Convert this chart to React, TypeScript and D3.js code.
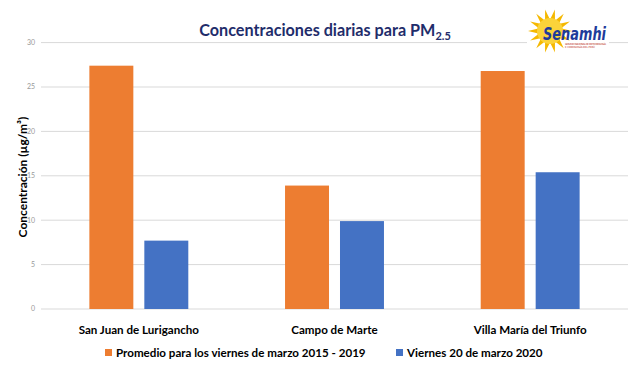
import React from "react";
import * as d3 from "d3";

const stations = ["San Juan de Lurigancho", "Campo de Marte", "Villa María del Triunfo"];
const seriesNames = ["Promedio para los viernes de marzo 2015 - 2019", "Viernes 20 de marzo 2020"];
const promedio = [27.4, 13.9, 26.8];
const viernes2020 = [7.7, 9.9, 15.4];
const yTicks = [0, 5, 10, 15, 20, 25, 30];
const colors = ["#ED7D31", "#4472C4"];

const W = 643;
const H = 384;
const plot = { left: 41, right: 628, top: 42.6, bottom: 309 };
const font = "Lato, 'Open Sans', sans-serif";

const App = () => {
  const x0 = d3.scaleBand().domain(stations).range([plot.left, plot.right]).padding(0);
  const x1 = d3
    .scaleBand()
    .domain(seriesNames)
    .range([0, x0.bandwidth()])
    .paddingInner(0.2)
    .paddingOuter(0.88);
  const y = d3.scaleLinear().domain([0, 30]).range([plot.bottom, plot.top]);
  const values = [promedio, viernes2020];

  // sun rays for the logo
  const rays = d3.range(14).map((i) => {
    const a = (i / 14) * Math.PI * 2;
    const a1 = a - 0.2;
    const a2 = a + 0.2;
    const r0 = 12;
    const r1 = 22;
    return `M${Math.cos(a1) * r0},${Math.sin(a1) * r0} L${Math.cos(a) * r1},${Math.sin(a) * r1} L${Math.cos(a2) * r0},${Math.sin(a2) * r0} Z`;
  });

  return (
    <div style={{ position: "absolute", left: 0, top: 0 }}>
      <svg width={W} height={H} style={{ display: "block", background: "#fff" }}>
        {/* gridlines */}
        {yTicks.map((t) => (
          <g key={t}>
            <line
              x1={plot.left}
              x2={plot.right}
              y1={y(t)}
              y2={y(t)}
              stroke="#d9d9d9"
              strokeWidth={1}
            />
            <text
              x={35}
              y={y(t)}
              dy="0.35em"
              textAnchor="end"
              fontSize={7}
              fill="#999"
              fontFamily={font}
            >
              {t}
            </text>
          </g>
        ))}

        {/* bars */}
        {stations.map((s, i) => (
          <g key={s} transform={`translate(${x0(s)},0)`}>
            {seriesNames.map((n, j) => (
              <rect
                key={n}
                x={x1(n)}
                y={y(values[j][i])}
                width={x1.bandwidth()}
                height={y(0) - y(values[j][i])}
                fill={colors[j]}
              />
            ))}
          </g>
        ))}

        {/* category labels */}
        {stations.map((s) => (
          <text
            key={s}
            x={(x0(s) as number) + x0.bandwidth() / 2}
            y={330}
            dy="0.35em"
            textAnchor="middle"
            fontSize={11.6}
            fontWeight="bold"
            fill="#000"
            fontFamily={font}
          >
            {s}
          </text>
        ))}

        {/* y axis title */}
        <text
          transform={`translate(23,177) rotate(-90)`}
          textAnchor="middle"
          dy="0.35em"
          fontSize={12}
          fontWeight="bold"
          fill="#000"
          fontFamily={font}
        >
          Concentración (µg/m³)
        </text>

        {/* title */}
        <text x={325} y={30} dy="0.35em" textAnchor="middle" fontSize={16.2} fontWeight="bold" fill="#1F2D6B" fontFamily={font}>
          Concentraciones diarias para PM
          <tspan fontSize={11} dy="4">2.5</tspan>
        </text>

        {/* legend */}
        <g fontFamily={font} fontSize={11.6} fontWeight="bold">
          <rect x={105} y={349} width={7} height={7} fill={colors[0]} />
          <text x={116} y={353} dy="0.35em" fill="#000">
            {seriesNames[0]}
          </text>
          <rect x={396} y={349} width={7} height={7} fill={colors[1]} />
          <text x={407} y={353} dy="0.35em" fill="#000">
            {seriesNames[1]}
          </text>
        </g>

        {/* logo */}
        <g>
          <rect x={527} y={8} width={82} height={46} fill="#fff" />
          <g transform="translate(550,31)">
            {rays.map((d, i) => (
              <path key={i} d={d} fill="#F5B800" />
            ))}
            <circle r={13} fill="#FBD33A" />
          </g>
          <text x={543} y={40} fontSize={17} fontWeight="bold" fontStyle="italic" fill="#1E3B9A" fontFamily="'DejaVu Sans', sans-serif" textLength={63} lengthAdjust="spacingAndGlyphs">
            Senamhi
          </text>
          <text x={565} y={44.5} fontSize={2.6} fill="#C0392B" fontFamily="'DejaVu Sans', sans-serif" textLength={41}>
            SERVICIO NACIONAL DE METEOROLOGÍA
          </text>
          <text x={565} y={47.5} fontSize={2.6} fill="#C0392B" fontFamily="'DejaVu Sans', sans-serif" textLength={30}>
            E HIDROLOGÍA DEL PERÚ
          </text>
        </g>
      </svg>
    </div>
  );
};

export default App;
